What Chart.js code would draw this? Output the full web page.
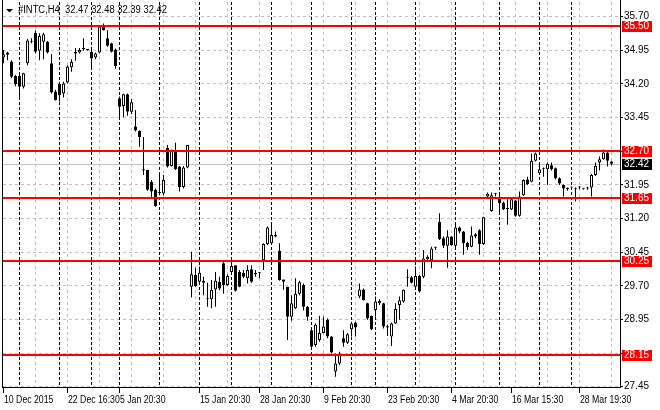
<!DOCTYPE html>
<html>
<head>
<meta charset="utf-8">
<script src="https://cdn.jsdelivr.net/npm/chart.js@4.4.1/dist/chart.umd.min.js"></script>
<style>
  html, body { margin: 0; padding: 0; background: #fff; }
  #wrap { width: 660px; height: 410px; }
</style>
</head>
<body>
<div id="wrap"><canvas id="chart" width="660" height="410"></canvas></div>
<script>
// INTC H4 candles
const symbol = '#INTC,H4';
const open = [34.79,34.90,34.70,34.38,34.38,34.14,34.66,35.14,35.34,34.94,35.14,35.14,34.66,34.03,34.20,33.99,34.23,34.57,34.92,34.90,
  34.98,34.96,34.92,34.79,34.90,35.48,35.22,35.11,34.97,33.88,33.71,33.97,33.58,33.25,33.15,32.30,32.28,32.02,31.84,31.79,
  31.76,32.78,32.37,32.69,32.36,31.90,32.34,29.68,29.94,29.79,29.81,29.42,29.40,29.62,29.79,30.20,29.72,30.01,30.16,30.01,
  29.99,29.87,30.07,29.99,29.98,30.27,30.63,30.65,30.83,30.48,29.84,29.68,29.01,29.20,29.52,29.72,29.23,28.71,28.38,28.49,
  28.65,28.94,28.57,27.79,27.97,28.53,28.43,28.73,28.88,29.46,29.62,29.31,29.03,29.16,29.31,29.31,28.80,28.57,28.86,29.27,
  29.35,29.88,29.89,29.68,29.92,29.90,30.29,30.27,30.55,31.13,30.76,30.59,30.80,30.59,31.00,30.91,30.66,30.57,30.85,30.94,
  30.63,31.69,31.37,31.74,31.65,31.55,31.42,31.40,31.60,31.26,31.72,32.07,32.02,32.49,32.21,32.30,32.30,32.39,32.32,32.10,
  31.95,31.86,31.89,31.85,31.89,31.86,31.87,31.89,32.17,32.45,32.52,32.67,32.47];
const high = [34.96,34.92,34.73,34.40,34.44,34.45,35.20,35.22,35.40,35.33,35.34,35.16,34.87,34.07,34.25,34.25,34.62,34.75,35.00,35.00,
  35.22,34.97,34.96,34.90,35.51,35.55,35.40,35.12,34.99,33.92,33.98,33.99,33.86,33.62,33.17,33.02,32.29,32.06,31.87,32.17,
  32.17,32.84,32.74,32.89,32.37,32.37,32.84,30.46,30.10,30.13,29.90,29.77,29.83,30.01,29.90,30.24,29.96,30.24,30.16,30.05,
  30.05,30.16,30.16,30.05,30.01,30.65,31.02,31.09,30.91,30.65,29.84,29.68,29.49,29.87,29.81,29.75,29.25,28.73,28.86,29.03,
  29.01,28.97,28.58,28.19,28.23,28.71,28.65,28.90,28.90,29.75,29.64,29.32,29.04,29.46,29.40,29.32,28.83,28.88,29.31,29.46,
  29.62,30.07,29.92,30.13,29.94,30.50,30.38,30.57,30.57,31.32,30.80,30.94,30.81,31.11,31.02,30.92,30.68,31.02,30.87,30.96,
  31.24,31.78,31.78,31.77,31.75,31.58,31.63,31.64,31.61,31.80,32.07,32.13,32.65,32.67,32.43,32.34,32.45,32.45,32.34,32.12,
  31.96,31.89,31.91,31.89,31.92,31.87,31.91,32.19,32.45,32.58,32.74,32.73,32.48];
const low = [34.66,34.73,34.33,34.15,33.84,34.10,34.62,35.11,34.88,34.73,34.75,34.88,33.99,33.83,33.81,33.90,34.21,34.47,34.72,34.88,
  34.94,34.94,34.53,34.75,34.88,35.39,35.03,34.90,34.54,33.45,33.46,33.49,33.53,33.14,32.80,32.17,31.82,31.65,31.46,31.72,
  31.72,32.34,32.36,32.28,31.80,31.87,32.32,29.44,29.68,29.75,29.49,29.23,29.20,29.23,29.60,29.52,29.70,29.99,29.57,29.67,
  29.87,29.75,29.77,29.90,29.87,30.05,30.61,30.63,30.78,29.81,29.61,28.49,28.92,29.18,29.49,29.15,28.92,28.33,28.34,28.45,
  28.64,28.53,28.19,27.67,27.93,28.34,28.40,28.57,28.57,29.42,29.37,28.94,28.71,29.01,29.27,28.75,28.58,28.36,28.85,28.94,
  29.32,29.68,29.75,29.67,29.55,29.87,30.24,30.09,30.50,30.72,30.54,30.10,30.59,30.56,30.87,30.39,30.50,30.56,30.76,30.39,
  30.61,31.65,31.35,31.69,31.28,31.39,31.06,31.39,31.24,31.24,31.70,31.95,32.01,32.47,32.19,32.13,31.95,32.27,32.07,31.95,
  31.69,31.82,31.84,31.58,31.85,31.84,31.84,31.69,32.15,32.27,32.51,32.36,32.39];
const close = [34.86,34.85,34.36,34.20,34.14,34.44,35.17,35.15,34.92,35.27,35.31,34.90,34.01,33.84,33.95,34.21,34.59,34.69,34.88,34.96,
  34.99,34.96,34.77,34.88,35.48,35.40,35.05,34.92,34.60,33.69,33.97,33.58,33.79,33.16,33.02,32.27,31.84,31.80,31.48,31.77,
  32.06,32.36,32.73,32.30,31.90,32.34,32.84,29.96,29.69,29.99,29.77,29.40,29.61,29.81,29.64,29.72,29.92,30.14,29.59,29.68,
  29.90,30.05,29.79,29.96,29.98,30.63,31.00,30.83,30.80,29.83,29.79,29.01,29.31,29.52,29.78,29.23,29.01,28.34,28.83,28.65,
  28.79,28.57,28.21,27.97,28.19,28.43,28.62,28.86,28.77,29.62,29.38,28.97,28.73,29.35,29.36,28.79,28.77,28.86,29.18,29.38,
  29.61,29.89,29.77,29.92,29.57,30.31,30.35,30.53,30.55,30.74,30.59,30.80,30.61,31.00,30.91,30.65,30.56,30.82,30.80,30.63,
  31.23,31.75,31.72,31.75,31.54,31.40,31.41,31.63,31.26,31.69,32.06,31.97,32.49,32.65,32.30,32.31,32.42,32.30,32.10,31.98,
  31.87,31.86,31.89,31.85,31.89,31.85,31.87,32.17,32.37,32.52,32.67,32.49,32.42];

// price axis and horizontal levels
const yTicks = [27.45, 28.20, 28.95, 29.70, 30.45, 31.20, 31.95, 32.70, 33.45, 34.20, 34.95, 35.70];
const levels = [35.50, 32.70, 31.65, 30.25, 28.15];

// time axis labels (bar index -> text) and week separators
const xLabelIdx = [0, 16, 29, 49, 64, 80, 96, 112, 127, 144];
const xLabelText = ['10 Dec 2015', '22 Dec 16:30', '5 Jan 20:30', '15 Jan 20:30', '28 Jan 20:30',
  '9 Feb 20:30', '23 Feb 20:30', '4 Mar 20:30', '16 Mar 15:30', '28 Mar 19:30'];
const weekStartIdx = [4, 14, 22, 29, 39, 49, 57, 67, 77, 87, 93, 103, 113, 124, 134, 142];

const FONT = '10px "Liberation Sans", Arial, sans-serif';
const last = open.length - 1;
const lastPrice = close[last];

const bodies = open.map((o, i) => ({ x: i, y: [o, close[i]] }));
const wicks = open.map((o, i) => ({ x: i, y: [low[i], high[i]] }));
const bodyColors = open.map((o, i) => close[i] >= o ? '#ffffff' : '#000000');

function vline(ctx, x, y0, y1) {
  ctx.beginPath();
  ctx.moveTo(x, y0);
  ctx.lineTo(x, y1);
  ctx.stroke();
}

function hline(ctx, y, x0, x1) {
  ctx.beginPath();
  ctx.moveTo(x0, y);
  ctx.lineTo(x1, y);
  ctx.stroke();
}

// narrow text, the terminal font is tighter than Arial
function squeezeText(ctx, text, x, y, k) {
  ctx.save();
  ctx.translate(x, y);
  ctx.scale(k, 1);
  ctx.fillText(text, 0, 0);
  ctx.restore();
}

// grid, separators, levels and labels in the MT4 look
const mtDecor = {
  id: 'mtDecor',
  beforeDatasetsDraw(chart) {
    const { ctx, chartArea: a, scales: { x, y } } = chart;
    ctx.save();
    ctx.lineWidth = 1;
    ctx.strokeStyle = '#c0c0c0';
    ctx.setLineDash([3, 3]);
    for (let i = 8; i <= last; i += 8) vline(ctx, x.getPixelForValue(i), a.top, a.bottom);
    ctx.strokeStyle = '#000';
    ctx.setLineDash([3, 2]);
    weekStartIdx.forEach(i => vline(ctx, x.getPixelForValue(i), a.top, a.bottom));
    ctx.setLineDash([]);
    ctx.strokeStyle = '#c0c0c0';
    hline(ctx, Math.round(y.getPixelForValue(lastPrice)) + 0.5, a.left, a.right);
    ctx.restore();
  },
  afterDatasetsDraw(chart) {
    const { ctx, chartArea: a, scales: { y } } = chart;
    ctx.save();
    ctx.fillStyle = '#ff0000';
    levels.forEach(v => {
      const py = Math.round(y.getPixelForValue(v));
      ctx.fillRect(a.left, py - 1, a.right - a.left, 2);
    });
    ctx.restore();
  },
  afterDraw(chart) {
    const { ctx, chartArea: a, scales: { x, y } } = chart;
    ctx.save();
    // frame
    ctx.fillStyle = '#000';
    ctx.fillRect(2, 0, 1, a.bottom);
    ctx.fillRect(a.right, 0, 1, a.bottom);
    ctx.fillRect(2, a.bottom - 1, a.right - 1, 1);

    ctx.font = FONT;
    ctx.textBaseline = 'middle';
    ctx.textAlign = 'left';

    // level tags on the price axis
    const tag = (v, bg) => {
      const py = Math.round(y.getPixelForValue(v));
      ctx.fillStyle = bg;
      ctx.fillRect(a.right + 2, py - 5, 30, 11);
      ctx.fillStyle = '#fff';
      ctx.fillText(v.toFixed(2), a.right + 4, py + 0.5);
    };
    levels.forEach(v => tag(v, '#ff0000'));
    tag(lastPrice, '#000000');

    // time labels
    ctx.fillStyle = '#000';
    xLabelIdx.forEach((idx, k) => {
      const px = Math.round(x.getPixelForValue(idx) - 0.5);
      ctx.fillRect(px, a.bottom, 1, 5);
      squeezeText(ctx, xLabelText[k], px + 1, a.bottom + 12, 0.87);
    });

    // header
    ctx.beginPath();
    ctx.moveTo(6, 9);
    ctx.lineTo(13, 9);
    ctx.lineTo(9.5, 12.5);
    ctx.closePath();
    ctx.fill();
    const head = symbol + '  ' + [open[last], high[last], low[last], close[last]].map(v => v.toFixed(2)).join(' ');
    squeezeText(ctx, head, 18, 10.5, 0.94);
    ctx.restore();
  }
};

new Chart(document.getElementById('chart'), {
  type: 'bar',
  data: {
    datasets: [
      {
        label: 'body',
        data: bodies,
        backgroundColor: bodyColors,
        borderColor: '#000',
        borderWidth: 1,
        borderSkipped: false,
        barThickness: 3,
        minBarLength: 1,
        inflateAmount: 0,
        grouped: false,
        order: 0
      },
      {
        label: 'wick',
        data: wicks,
        backgroundColor: '#000',
        borderWidth: 0,
        barThickness: 1,
        inflateAmount: 0,
        grouped: false,
        order: 1
      }
    ]
  },
  options: {
    responsive: false,
    animation: false,
    devicePixelRatio: 1,
    layout: { padding: { left: 3, top: 2, right: 0, bottom: 22 } },
    plugins: { legend: { display: false }, tooltip: { enabled: false } },
    scales: {
      x: { type: 'linear', offset: false, min: -0.125, max: 154.125, display: false },
      y: {
        position: 'right',
        min: 27.421,
        max: 36.0275,
        afterBuildTicks: s => { s.ticks = yTicks.map(v => ({ value: v })); },
        afterFit: s => { s.width = 40; s.paddingTop = 0; s.paddingBottom = 0; },
        ticks: {
          autoSkip: false,
          padding: 1,
          color: '#000',
          font: { family: '"Liberation Sans", Arial, sans-serif', size: 10 },
          callback: v => levels.some(l => Math.abs(l - v) < 0.1) ? '' : Number(v).toFixed(2)
        },
        grid: { color: '#c0c0c0', tickColor: '#000', tickLength: 3 },
        border: { display: false, dash: [3, 3] }
      }
    }
  },
  plugins: [mtDecor]
});
</script>
</body>
</html>
